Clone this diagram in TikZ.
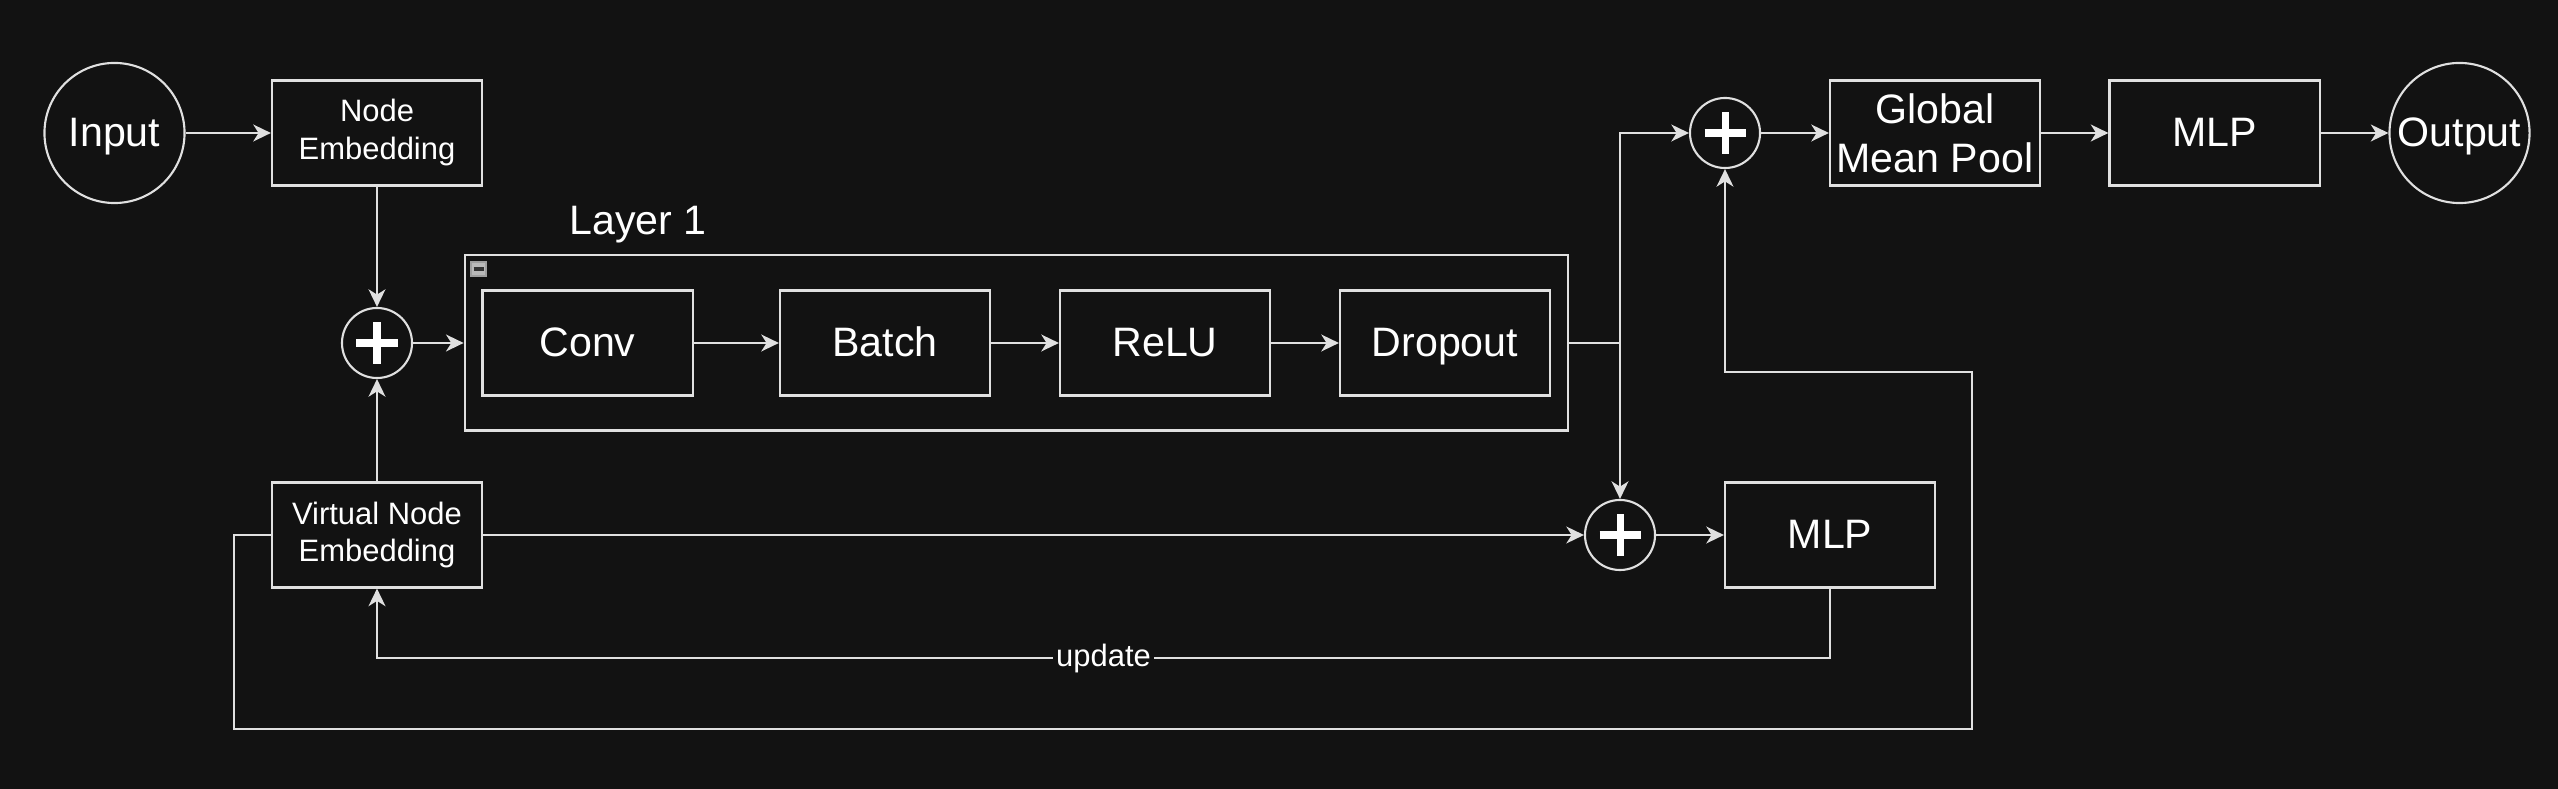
\documentclass[tikz,border=0pt]{standalone}
\usepackage{fontspec}
\setmainfont{Liberation Sans}
\usetikzlibrary{arrows.meta}
\definecolor{bgc}{HTML}{121212}
\definecolor{linec}{HTML}{E0E0E0}
\tikzset{
    box/.style={draw=linec, line width=0.6pt, text=white, minimum width=2.1cm, minimum height=1.05cm, inner sep=0pt, align=center, font=\fontsize{11.7}{14}\selectfont},
    oneline/.style={text height=10pt, text depth=2.6pt},
    smallbox/.style={box, font=\fontsize{8.8}{10.8}\selectfont},
    term/.style={draw=linec, line width=0.6pt, circle, text=white, minimum size=1.4cm, inner sep=0pt, oneline, font=\fontsize{11.7}{14}\selectfont},
    plus/.style={draw=linec, line width=0.6pt, circle, minimum size=0.7cm, inner sep=0pt,
        path picture={\draw[white, line width=2pt]
            ([xshift=-0.205cm]path picture bounding box.center) -- ([xshift=0.205cm]path picture bounding box.center)
            ([yshift=-0.205cm]path picture bounding box.center) -- ([yshift=0.205cm]path picture bounding box.center);}},
    wire/.style={draw=linec, line width=0.6pt},
    arr/.style={wire, -{Stealth[length=5pt,width=4.8pt,inset=1.5pt]}},
}
\begin{document}
\begin{tikzpicture}[x=0.01cm,y=-0.01cm]
        \fill[bgc] (0,0) rectangle (2558,789);

        % top row
        \node[term] (input) at (114.5,133) {Input};
        \node[smallbox] (nodeemb) at (377,133) {Node\\Embedding};
        \node[plus] (plusin) at (377,343) {};
        \node[smallbox] (vnemb) at (377,535) {Virtual Node\\Embedding};

        % layer container
        \node[draw=linec, line width=0.6pt, minimum width=11.03cm, minimum height=1.755cm, inner sep=0pt] (layer) at (1016.5,342.75) {};
        \node[anchor=base, text=white, font=\fontsize{11.7}{14}\selectfont] (layername) at (638,234.3) {Layer 1};
        \draw[gray!75, fill=gray!55] (471,262) rectangle (486,276);
        \draw[black!80, line width=1.2pt] (473.5,269) -- (483.5,269);

        \foreach \name/\x in {Conv/587.5,Batch/885,ReLU/1165,Dropout/1445}{
            \node[box, oneline] (\name) at (\x,343) {\name};
        }
        \foreach \a/\b in {Conv/Batch,Batch/ReLU,ReLU/Dropout}{
            \draw[arr] (\a.east) -- (\b.east -| \b.west);
        }

        % readout and virtual node
        \node[plus] (plusout) at (1725,133) {};
        \node[box] (pool) at (1935,133) {Global\\Mean Pool};
        \node[box, oneline] (mlpout) at (2214.5,133) {MLP};
        \node[term] (output) at (2459.5,133) {Output};
        \node[plus] (plusvn) at (1620,535) {};
        \node[box, oneline] (mlpvn) at (1830,535) {MLP};

        \coordinate (split) at (layer.east -| plusvn.north);
        \coordinate (updr) at (1830,657.7);
        \coordinate (loopbl) at (234.4,729.3);
        \coordinate (loopbr) at (1972,729.3);
        \coordinate (looptr) at (1972,372.3);

        \draw[arr] (input) -- (nodeemb);
        \draw[arr] (nodeemb) -- (plusin);
        \draw[arr] (vnemb) -- (plusin);
        \draw[arr] (plusin.east) -- (plusin.east -| layer.west);
        \draw[wire] (layer.east) -- (split);
        \draw[arr] (split) -- (plusvn.north);
        \draw[arr] (split) |- (plusout.west);
        \draw[arr] (vnemb.east) -- (plusvn.west);
        \draw[arr] (plusvn) -- (mlpvn);
        \draw[arr] (mlpvn.south) -- (updr) -| node[pos=0.25, fill=bgc, text=white, inner sep=1pt, text height=7.5pt, text depth=2.4pt, font=\fontsize{8.8}{10.8}\selectfont] (updlabel) {update} (vnemb.south);
        \draw[arr] (vnemb.west) -| (loopbl) -- (loopbr) -- (looptr) -| (plusout.south);
        \draw[arr] (plusout) -- (pool);
        \draw[arr] (pool) -- (mlpout);
        \draw[arr] (mlpout) -- (output);
    \end{tikzpicture}
\end{document}
